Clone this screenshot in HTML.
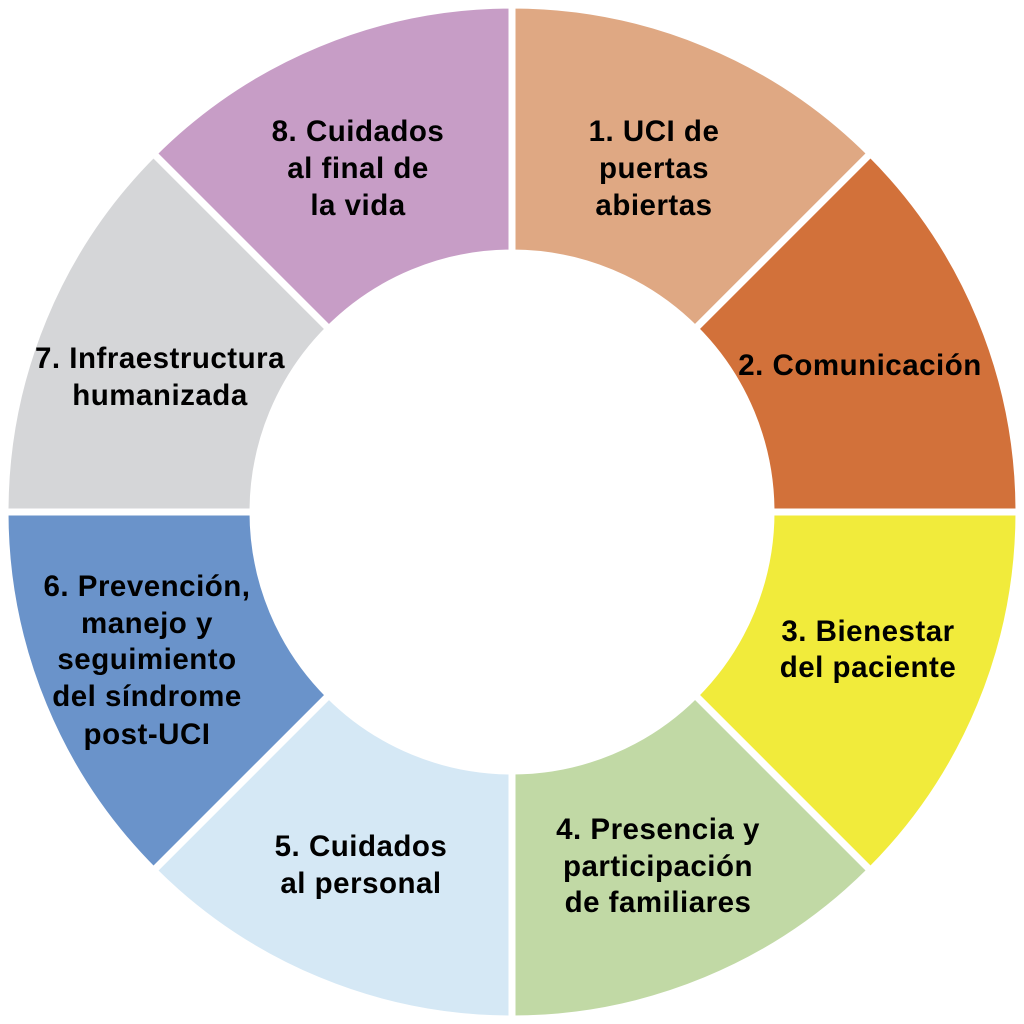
<!DOCTYPE html>
<html><head><meta charset="utf-8"><style>
html,body{margin:0;padding:0;background:#fff;width:1024px;height:1024px;overflow:hidden}
svg text{font-family:"Liberation Sans",Arial,sans-serif;font-weight:bold;font-size:29.5px;letter-spacing:0.5px;fill:#000;text-anchor:middle}
</style></head><body>
<svg width="1024" height="1024" viewBox="0 0 1024 1024">
<g stroke="#fff" stroke-width="7">
<path d="M512,5 A507,507 0 0 1 870.5,153.5 L695.1,328.9 A259,259 0 0 0 512,253 Z" fill="#DFA883"/>
<path d="M870.5,153.5 A507,507 0 0 1 1019,512 L771,512 A259,259 0 0 0 695.1,328.9 Z" fill="#D2713A"/>
<path d="M1019,512 A507,507 0 0 1 870.5,870.5 L695.1,695.1 A259,259 0 0 0 771,512 Z" fill="#F1EB3B"/>
<path d="M870.5,870.5 A507,507 0 0 1 512,1019 L512,771 A259,259 0 0 0 695.1,695.1 Z" fill="#C1D9A5"/>
<path d="M512,1019 A507,507 0 0 1 153.5,870.5 L328.9,695.1 A259,259 0 0 0 512,771 Z" fill="#D5E8F5"/>
<path d="M153.5,870.5 A507,507 0 0 1 5,512 L253,512 A259,259 0 0 0 328.9,695.1 Z" fill="#6A93CA"/>
<path d="M5,512 A507,507 0 0 1 153.5,153.5 L328.9,328.9 A259,259 0 0 0 253,512 Z" fill="#D5D6D8"/>
<path d="M153.5,153.5 A507,507 0 0 1 512,5 L512,253 A259,259 0 0 0 328.9,328.9 Z" fill="#C79DC6"/>
</g>
<text x="654" y="141">1. UCI de</text>
<text x="654" y="178">puertas</text>
<text x="654" y="215">abiertas</text>
<text x="860" y="375">2. Comunicación</text>
<text x="868" y="641">3. Bienestar</text>
<text x="868" y="677">del paciente</text>
<text x="658" y="839">4. Presencia y</text>
<text x="658" y="876">participación</text>
<text x="658" y="912">de familiares</text>
<text x="361" y="856">5. Cuidados</text>
<text x="361" y="893">al personal</text>
<text x="147" y="596">6. Prevención,</text>
<text x="147" y="633">manejo y</text>
<text x="147" y="669">seguimiento</text>
<text x="147" y="706">del síndrome</text>
<text x="147" y="744">post-UCI</text>
<text x="160" y="368">7. Infraestructura</text>
<text x="160" y="405">humanizada</text>
<text x="358" y="141">8. Cuidados</text>
<text x="358" y="178">al final de</text>
<text x="358" y="215">la vida</text>
</svg>
</body></html>
